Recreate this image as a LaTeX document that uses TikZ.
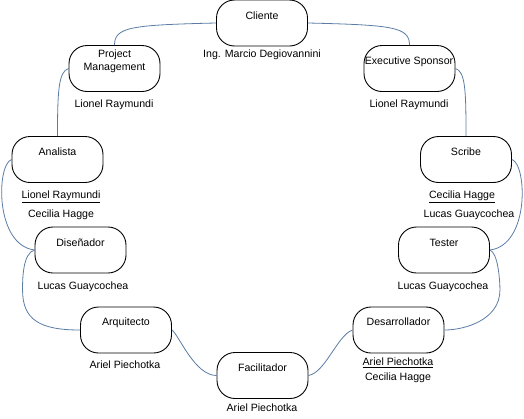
\documentclass[tikz,border=0pt]{standalone}
\usepackage{fontspec}
\setmainfont{Liberation Sans}
\newcommand{\rolefont}{\fontsize{10.6}{12.6}\selectfont}
\definecolor{linkcol}{HTML}{5B7CA5}
\tikzset{
  role/.style={draw=black, rounded corners=18pt, minimum width=91pt, minimum height=46pt, line width=0.9pt, inner sep=0pt},
  txt/.style={inner sep=0pt, text height=7.6pt, text depth=0pt, font=\rolefont},
  mtxt/.style={inner sep=0pt, align=center, font=\rolefont},
  link/.style={draw=linkcol, line width=0.8pt},
}
\begin{document}
\begin{tikzpicture}[x=1pt,y=-1pt]
\useasboundingbox (0,0) rectangle (524,418);
% boxes
\node[role] (cl) at (262,23) {};
\node[role] (pm) at (114.5,68.5) {};
\node[role] (es) at (409.5,68.5) {};
\node[role] (an) at (57.5,159.5) {};
\node[role] (sc) at (466,159.5) {};
\node[role] (di) at (80.5,250) {};
\node[role] (te) at (444,250) {};
\node[role] (ar) at (126,330) {};
\node[role] (de) at (398.5,330) {};
\node[role] (fa) at (262.5,375.5) {};
% titles
\node[txt] (clt) at (262,16) {Cliente};
\node[mtxt] (pmt) at (114.5,61.5) {Project\\Management};
\node[txt] (est) at (409,61) {Executive Sponsor};
\node[txt] (ant) at (57.5,152) {Analista};
\node[txt] (sct) at (466,152) {Scribe};
\node[txt] (dit) at (80.5,243) {Diseñador};
\node[txt] (tet) at (444,243) {Tester};
\node[txt] (art) at (126,322) {Arquitecto};
\node[txt] (det) at (398.5,322) {Desarrollador};
\node[txt] (fat) at (262.5,368) {Facilitador};
% people
\node[txt] (clp) at (262,54) {Ing. Marcio Degiovannini};
\node[txt] (pmp) at (114,104) {Lionel Raymundi};
\node[txt] (esp) at (409,104) {Lionel Raymundi};
\node[txt] (anp1) at (61,195) {\underline{Lionel Raymundi}};
\node[txt] (anp2) at (61,214) {Cecilia Hagge};
\node[txt] (scp1) at (462,195) {\underline{Cecilia Hagge}};
\node[txt] (scp2) at (469,214) {Lucas Guaycochea};
\node[txt] (dip) at (83,286) {Lucas Guaycochea};
\node[txt] (tep) at (443,286) {Lucas Guaycochea};
\node[txt] (arp) at (125,365) {Ariel Piechotka};
\node[txt] (dep1) at (398,362) {\underline{Ariel Piechotka}};
\node[txt] (dep2) at (398,377) {Cecilia Hagge};
\node[txt] (fap) at (262,408) {Ariel Piechotka};
% links
\draw[link] (cl.west) .. controls +(-85,2) and +(0,-18) .. (pm.north);
\draw[link] (cl.east) .. controls +(85,2) and +(0,-18) .. (es.north);
\draw[link] (pm.west) .. controls +(-10,3) and +(0,-45) .. (an.north);
\draw[link] (es.east) .. controls +(10,3) and +(0,-45) .. (sc.north);
\draw[link] (an.west) .. controls +(-15,5) and +(-40,-5) .. (di.west);
\draw[link] (sc.east) .. controls +(15,5) and +(40,-5) .. (te.east);
\draw[link] (di.west) .. controls +(-12,3) and +(0,-10) .. ++(-12,40) .. controls +(0,30) and +(-40,0) .. (ar.west);
\draw[link] (te.east) .. controls +(8,3) and +(0,-10) .. ++(10,40) .. controls +(0,30) and +(20,0) .. (de.east);
\draw[link] (ar.east) .. controls +(7,5) and +(-22,0) .. (fa.west);
\draw[link] (fa.east) .. controls +(17,-3) and +(-15,5) .. (de.west);
\end{tikzpicture}
\end{document}
